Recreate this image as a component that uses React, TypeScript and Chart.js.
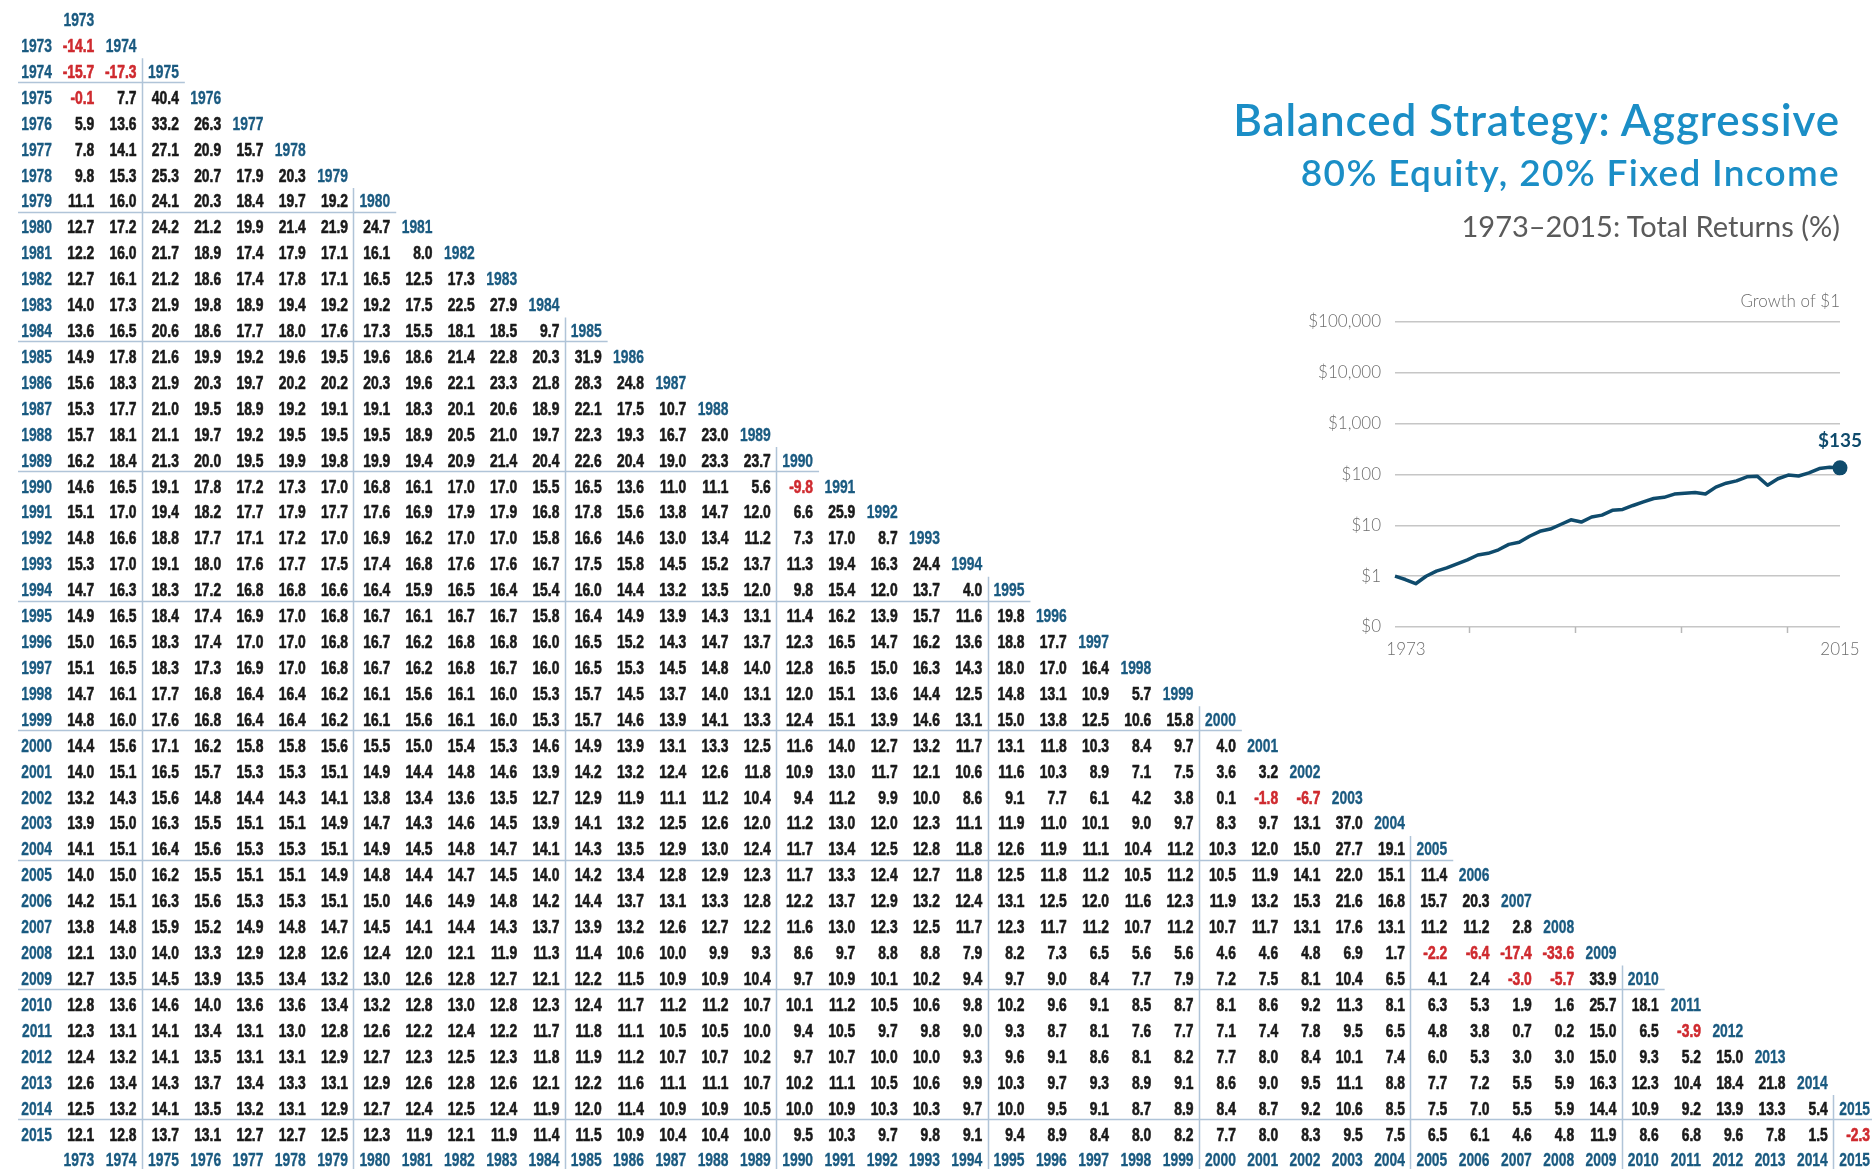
import React, { useEffect, useRef } from 'react';
import { Chart, registerables } from 'chart.js';

Chart.register(...registerables);

// ---------- DATA ----------
const startYears = [
  1973, 1974, 1975, 1976, 1977, 1978, 1979, 1980, 1981, 1982, 1983, 1984, 1985, 1986, 1987,
  1988, 1989, 1990, 1991, 1992, 1993, 1994, 1995, 1996, 1997, 1998, 1999, 2000, 2001, 2002,
  2003, 2004, 2005, 2006, 2007, 2008, 2009, 2010, 2011, 2012, 2013, 2014, 2015,
];

// annualized total returns (%) — one array per ending year, columns = starting year from 1973
const r1973 = [-14.1];
const r1974 = [-15.7, -17.3];
const r1975 = [-0.1, 7.7, 40.4];
const r1976 = [5.9, 13.6, 33.2, 26.3];
const r1977 = [7.8, 14.1, 27.1, 20.9, 15.7];
const r1978 = [9.8, 15.3, 25.3, 20.7, 17.9, 20.3];
const r1979 = [11.1, 16.0, 24.1, 20.3, 18.4, 19.7, 19.2];
const r1980 = [12.7, 17.2, 24.2, 21.2, 19.9, 21.4, 21.9, 24.7];
const r1981 = [12.2, 16.0, 21.7, 18.9, 17.4, 17.9, 17.1, 16.1, 8.0];
const r1982 = [12.7, 16.1, 21.2, 18.6, 17.4, 17.8, 17.1, 16.5, 12.5, 17.3];
const r1983 = [14.0, 17.3, 21.9, 19.8, 18.9, 19.4, 19.2, 19.2, 17.5, 22.5, 27.9];
const r1984 = [13.6, 16.5, 20.6, 18.6, 17.7, 18.0, 17.6, 17.3, 15.5, 18.1, 18.5, 9.7];
const r1985 = [14.9, 17.8, 21.6, 19.9, 19.2, 19.6, 19.5, 19.6, 18.6, 21.4, 22.8, 20.3, 31.9];
const r1986 = [15.6, 18.3, 21.9, 20.3, 19.7, 20.2, 20.2, 20.3, 19.6, 22.1, 23.3, 21.8, 28.3, 24.8];
const r1987 = [15.3, 17.7, 21.0, 19.5, 18.9, 19.2, 19.1, 19.1, 18.3, 20.1, 20.6, 18.9, 22.1, 17.5, 10.7];
const r1988 = [15.7, 18.1, 21.1, 19.7, 19.2, 19.5, 19.5, 19.5, 18.9, 20.5, 21.0, 19.7, 22.3, 19.3, 16.7, 23.0];
const r1989 = [16.2, 18.4, 21.3, 20.0, 19.5, 19.9, 19.8, 19.9, 19.4, 20.9, 21.4, 20.4, 22.6, 20.4, 19.0, 23.3, 23.7];
const r1990 = [14.6, 16.5, 19.1, 17.8, 17.2, 17.3, 17.0, 16.8, 16.1, 17.0, 17.0, 15.5, 16.5, 13.6, 11.0, 11.1, 5.6, -9.8];
const r1991 = [15.1, 17.0, 19.4, 18.2, 17.7, 17.9, 17.7, 17.6, 16.9, 17.9, 17.9, 16.8, 17.8, 15.6, 13.8, 14.7, 12.0, 6.6, 25.9];
const r1992 = [14.8, 16.6, 18.8, 17.7, 17.1, 17.2, 17.0, 16.9, 16.2, 17.0, 17.0, 15.8, 16.6, 14.6, 13.0, 13.4, 11.2, 7.3, 17.0, 8.7];
const r1993 = [15.3, 17.0, 19.1, 18.0, 17.6, 17.7, 17.5, 17.4, 16.8, 17.6, 17.6, 16.7, 17.5, 15.8, 14.5, 15.2, 13.7, 11.3, 19.4, 16.3, 24.4];
const r1994 = [14.7, 16.3, 18.3, 17.2, 16.8, 16.8, 16.6, 16.4, 15.9, 16.5, 16.4, 15.4, 16.0, 14.4, 13.2, 13.5, 12.0, 9.8, 15.4, 12.0, 13.7, 4.0];
const r1995 = [14.9, 16.5, 18.4, 17.4, 16.9, 17.0, 16.8, 16.7, 16.1, 16.7, 16.7, 15.8, 16.4, 14.9, 13.9, 14.3, 13.1, 11.4, 16.2, 13.9, 15.7, 11.6, 19.8];
const r1996 = [15.0, 16.5, 18.3, 17.4, 17.0, 17.0, 16.8, 16.7, 16.2, 16.8, 16.8, 16.0, 16.5, 15.2, 14.3, 14.7, 13.7, 12.3, 16.5, 14.7, 16.2, 13.6, 18.8, 17.7];
const r1997 = [15.1, 16.5, 18.3, 17.3, 16.9, 17.0, 16.8, 16.7, 16.2, 16.8, 16.7, 16.0, 16.5, 15.3, 14.5, 14.8, 14.0, 12.8, 16.5, 15.0, 16.3, 14.3, 18.0, 17.0, 16.4];
const r1998 = [14.7, 16.1, 17.7, 16.8, 16.4, 16.4, 16.2, 16.1, 15.6, 16.1, 16.0, 15.3, 15.7, 14.5, 13.7, 14.0, 13.1, 12.0, 15.1, 13.6, 14.4, 12.5, 14.8, 13.1, 10.9, 5.7];
const r1999 = [14.8, 16.0, 17.6, 16.8, 16.4, 16.4, 16.2, 16.1, 15.6, 16.1, 16.0, 15.3, 15.7, 14.6, 13.9, 14.1, 13.3, 12.4, 15.1, 13.9, 14.6, 13.1, 15.0, 13.8, 12.5, 10.6, 15.8];
const r2000 = [14.4, 15.6, 17.1, 16.2, 15.8, 15.8, 15.6, 15.5, 15.0, 15.4, 15.3, 14.6, 14.9, 13.9, 13.1, 13.3, 12.5, 11.6, 14.0, 12.7, 13.2, 11.7, 13.1, 11.8, 10.3, 8.4, 9.7, 4.0];
const r2001 = [14.0, 15.1, 16.5, 15.7, 15.3, 15.3, 15.1, 14.9, 14.4, 14.8, 14.6, 13.9, 14.2, 13.2, 12.4, 12.6, 11.8, 10.9, 13.0, 11.7, 12.1, 10.6, 11.6, 10.3, 8.9, 7.1, 7.5, 3.6, 3.2];
const r2002 = [13.2, 14.3, 15.6, 14.8, 14.4, 14.3, 14.1, 13.8, 13.4, 13.6, 13.5, 12.7, 12.9, 11.9, 11.1, 11.2, 10.4, 9.4, 11.2, 9.9, 10.0, 8.6, 9.1, 7.7, 6.1, 4.2, 3.8, 0.1, -1.8, -6.7];
const r2003 = [13.9, 15.0, 16.3, 15.5, 15.1, 15.1, 14.9, 14.7, 14.3, 14.6, 14.5, 13.9, 14.1, 13.2, 12.5, 12.6, 12.0, 11.2, 13.0, 12.0, 12.3, 11.1, 11.9, 11.0, 10.1, 9.0, 9.7, 8.3, 9.7, 13.1, 37.0];
const r2004 = [14.1, 15.1, 16.4, 15.6, 15.3, 15.3, 15.1, 14.9, 14.5, 14.8, 14.7, 14.1, 14.3, 13.5, 12.9, 13.0, 12.4, 11.7, 13.4, 12.5, 12.8, 11.8, 12.6, 11.9, 11.1, 10.4, 11.2, 10.3, 12.0, 15.0, 27.7, 19.1];
const r2005 = [14.0, 15.0, 16.2, 15.5, 15.1, 15.1, 14.9, 14.8, 14.4, 14.7, 14.5, 14.0, 14.2, 13.4, 12.8, 12.9, 12.3, 11.7, 13.3, 12.4, 12.7, 11.8, 12.5, 11.8, 11.2, 10.5, 11.2, 10.5, 11.9, 14.1, 22.0, 15.1, 11.4];
const r2006 = [14.2, 15.1, 16.3, 15.6, 15.3, 15.3, 15.1, 15.0, 14.6, 14.9, 14.8, 14.2, 14.4, 13.7, 13.1, 13.3, 12.8, 12.2, 13.7, 12.9, 13.2, 12.4, 13.1, 12.5, 12.0, 11.6, 12.3, 11.9, 13.2, 15.3, 21.6, 16.8, 15.7, 20.3];
const r2007 = [13.8, 14.8, 15.9, 15.2, 14.9, 14.8, 14.7, 14.5, 14.1, 14.4, 14.3, 13.7, 13.9, 13.2, 12.6, 12.7, 12.2, 11.6, 13.0, 12.3, 12.5, 11.7, 12.3, 11.7, 11.2, 10.7, 11.2, 10.7, 11.7, 13.1, 17.6, 13.1, 11.2, 11.2, 2.8];
const r2008 = [12.1, 13.0, 14.0, 13.3, 12.9, 12.8, 12.6, 12.4, 12.0, 12.1, 11.9, 11.3, 11.4, 10.6, 10.0, 9.9, 9.3, 8.6, 9.7, 8.8, 8.8, 7.9, 8.2, 7.3, 6.5, 5.6, 5.6, 4.6, 4.6, 4.8, 6.9, 1.7, -2.2, -6.4, -17.4, -33.6];
const r2009 = [12.7, 13.5, 14.5, 13.9, 13.5, 13.4, 13.2, 13.0, 12.6, 12.8, 12.7, 12.1, 12.2, 11.5, 10.9, 10.9, 10.4, 9.7, 10.9, 10.1, 10.2, 9.4, 9.7, 9.0, 8.4, 7.7, 7.9, 7.2, 7.5, 8.1, 10.4, 6.5, 4.1, 2.4, -3.0, -5.7, 33.9];
const r2010 = [12.8, 13.6, 14.6, 14.0, 13.6, 13.6, 13.4, 13.2, 12.8, 13.0, 12.8, 12.3, 12.4, 11.7, 11.2, 11.2, 10.7, 10.1, 11.2, 10.5, 10.6, 9.8, 10.2, 9.6, 9.1, 8.5, 8.7, 8.1, 8.6, 9.2, 11.3, 8.1, 6.3, 5.3, 1.9, 1.6, 25.7, 18.1];
const r2011 = [12.3, 13.1, 14.1, 13.4, 13.1, 13.0, 12.8, 12.6, 12.2, 12.4, 12.2, 11.7, 11.8, 11.1, 10.5, 10.5, 10.0, 9.4, 10.5, 9.7, 9.8, 9.0, 9.3, 8.7, 8.1, 7.6, 7.7, 7.1, 7.4, 7.8, 9.5, 6.5, 4.8, 3.8, 0.7, 0.2, 15.0, 6.5, -3.9];
const r2012 = [12.4, 13.2, 14.1, 13.5, 13.1, 13.1, 12.9, 12.7, 12.3, 12.5, 12.3, 11.8, 11.9, 11.2, 10.7, 10.7, 10.2, 9.7, 10.7, 10.0, 10.0, 9.3, 9.6, 9.1, 8.6, 8.1, 8.2, 7.7, 8.0, 8.4, 10.1, 7.4, 6.0, 5.3, 3.0, 3.0, 15.0, 9.3, 5.2, 15.0];
const r2013 = [12.6, 13.4, 14.3, 13.7, 13.4, 13.3, 13.1, 12.9, 12.6, 12.8, 12.6, 12.1, 12.2, 11.6, 11.1, 11.1, 10.7, 10.2, 11.1, 10.5, 10.6, 9.9, 10.3, 9.7, 9.3, 8.9, 9.1, 8.6, 9.0, 9.5, 11.1, 8.8, 7.7, 7.2, 5.5, 5.9, 16.3, 12.3, 10.4, 18.4, 21.8];
const r2014 = [12.5, 13.2, 14.1, 13.5, 13.2, 13.1, 12.9, 12.7, 12.4, 12.5, 12.4, 11.9, 12.0, 11.4, 10.9, 10.9, 10.5, 10.0, 10.9, 10.3, 10.3, 9.7, 10.0, 9.5, 9.1, 8.7, 8.9, 8.4, 8.7, 9.2, 10.6, 8.5, 7.5, 7.0, 5.5, 5.9, 14.4, 10.9, 9.2, 13.9, 13.3, 5.4];
const r2015 = [12.1, 12.8, 13.7, 13.1, 12.7, 12.7, 12.5, 12.3, 11.9, 12.1, 11.9, 11.4, 11.5, 10.9, 10.4, 10.4, 10.0, 9.5, 10.3, 9.7, 9.8, 9.1, 9.4, 8.9, 8.4, 8.0, 8.2, 7.7, 8.0, 8.3, 9.5, 7.5, 6.5, 6.1, 4.6, 4.8, 11.9, 8.6, 6.8, 9.6, 7.8, 1.5, -2.3];

const rowsByEndYear = [
  r1973, r1974, r1975, r1976, r1977, r1978, r1979, r1980, r1981, r1982, r1983, r1984, r1985,
  r1986, r1987, r1988, r1989, r1990, r1991, r1992, r1993, r1994, r1995, r1996, r1997, r1998,
  r1999, r2000, r2001, r2002, r2003, r2004, r2005, r2006, r2007, r2008, r2009, r2010, r2011,
  r2012, r2013, r2014, r2015,
];

// five-year blocks that get separator lines
const groupStarts = [1975, 1980, 1985, 1990, 1995, 2000, 2005, 2010, 2015];

// growth of $1 (start, then each year end 1973..2015)
const growthOf1 = [
  1.0, 0.859, 0.71, 0.997, 1.26, 1.458, 1.753, 2.09, 2.606, 2.815, 3.302, 4.223, 4.633, 6.11,
  7.626, 8.442, 10.38, 12.84, 11.59, 14.59, 15.86, 19.72, 20.51, 24.57, 28.92, 33.67, 35.59,
  41.21, 42.86, 44.23, 41.27, 56.53, 67.33, 75.01, 90.23, 92.76, 61.59, 82.47, 97.4, 93.6,
  107.6, 131.1, 138.2, 135.0,
];
const growthTicks = [0.1, 1, 10, 100, 1000, 10000, 100000];
const growthTickLabels = ['$0', '$1', '$10', '$100', '$1,000', '$10,000', '$100,000'];
const growthDecadeMarks = [1980, 1990, 2000, 2010];
const growthXLabels = ['1973', '2015'];
const growthCaption = 'Growth of $1';
const growthEndLabel = '$135';

const titleText = 'Balanced Strategy: Aggressive';
const subtitleText = '80% Equity, 20% Fixed Income';
const periodText = '1973\u20132015: Total Returns (%)';

// ---------- STYLE ----------
const BLUE = '#1a5a80';
const RED = '#cf2a2f';
const BLACK = '#1a1a1a';
const SEP = '#b0c4d8';
const LINE = '#0f4b6c';
const TEXT_SCALE_X = 0.77;

const tablePlugin = {
  id: 'tableText',
  afterDatasetsDraw(chart: any) {
    const ctx = chart.ctx as CanvasRenderingContext2D;
    const xs = chart.scales.x;
    const ys = chart.scales.y;
    ctx.save();
    ctx.strokeStyle = SEP;
    ctx.lineWidth = 1.5;
    groupStarts.forEach((g) => {
      const vx = Math.round(xs.getPixelForValue(g - 1) + 5.5) + 0.5;
      const rowPrev = ys.getPixelForValue(g - 1);
      const rowNext = ys.getPixelForValue(g);
      const top = rowPrev - 13;
      const bottom = ys.getPixelForValue(2016) + 9;
      const hy = Math.round((rowPrev + rowNext) / 2 - 2) + 0.5;
      const hx1 = xs.getPixelForValue(1972) - 34;
      const hx2 = xs.getPixelForValue(g) + 6;
      ctx.beginPath();
      ctx.moveTo(vx, top);
      ctx.lineTo(vx, bottom);
      ctx.moveTo(hx1, hy);
      ctx.lineTo(hx2, hy);
      ctx.stroke();
    });
    ctx.font = 'bold 18px "Liberation Sans", Arial, sans-serif';
    ctx.textAlign = 'right';
    ctx.textBaseline = 'alphabetic';
    ctx.lineJoin = 'round';
    chart.data.datasets.forEach((ds: any, di: number) => {
      const meta = chart.getDatasetMeta(di);
      meta.data.forEach((el: any, i: number) => {
        const d = ds.data[i];
        let text: string;
        let color: string;
        if (di === 0) {
          text = d.v.toFixed(1);
          color = d.v < 0 ? RED : BLACK;
        } else {
          text = d.t;
          color = BLUE;
        }
        ctx.save();
        ctx.translate(el.x, el.y + 6.5);
        ctx.scale(TEXT_SCALE_X, 1);
        ctx.fillStyle = color;
        ctx.strokeStyle = color;
        ctx.lineWidth = di === 0 ? 0.6 : 0.35;
        ctx.fillText(text, 0, 0);
        ctx.strokeText(text, 0, 0);
        ctx.restore();
      });
    });
    ctx.restore();
  },
};

function ReturnsTable() {
  const ref = useRef<HTMLCanvasElement>(null);
  useEffect(() => {
    if (!ref.current) return;
    const valuePts: any[] = [];
    rowsByEndYear.forEach((row, ri) => {
      const end = startYears[ri];
      row.forEach((v, ci) => valuePts.push({ x: startYears[ci], y: end, v }));
    });
    const labelPts: any[] = [];
    startYears.forEach((yr) => {
      labelPts.push({ x: 1972, y: yr, t: String(yr) });
      labelPts.push({ x: yr, y: yr - 1, t: String(yr) });
      labelPts.push({ x: yr, y: 2016, t: String(yr) });
    });
    const chart = new Chart(ref.current, {
      type: 'scatter',
      data: {
        datasets: [
          { data: valuePts, pointRadius: 0, pointHoverRadius: 0 },
          { data: labelPts, pointRadius: 0, pointHoverRadius: 0 },
        ] as any,
      },
      options: {
        animation: false,
        responsive: false,
        events: [],
        layout: { padding: 0 },
        plugins: { legend: { display: false }, tooltip: { enabled: false } },
        scales: {
          x: { type: 'linear', display: false, min: 1970.77, max: 2015.046 },
          y: { type: 'linear', display: false, reverse: true, min: 1971.248, max: 2016.62 },
        },
      } as any,
      plugins: [tablePlugin],
    });
    return () => chart.destroy();
  }, []);
  return (
    <canvas
      ref={ref}
      width={1872}
      height={1176}
      style={{ position: 'absolute', left: 0, top: 0, width: 1872, height: 1176 }}
    />
  );
}

const growthPlugin = {
  id: 'growthDecor',
  afterDatasetsDraw(chart: any) {
    const ctx = chart.ctx as CanvasRenderingContext2D;
    const area = chart.chartArea;
    const xs = chart.scales.x;
    const n = growthOf1.length - 1;
    ctx.save();
    ctx.strokeStyle = '#b8b8b8';
    ctx.lineWidth = 1.5;
    growthDecadeMarks.forEach((yr) => {
      const px = Math.round(xs.getPixelForValue(((yr - 1973) * n) / 42)) + 0.5;
      ctx.beginPath();
      ctx.moveTo(px, area.bottom);
      ctx.lineTo(px, area.bottom + 6);
      ctx.stroke();
    });
    ctx.fillStyle = '#6d6d6d';
    ctx.font = '300 17px Lato, sans-serif';
    ctx.textBaseline = 'middle';
    ctx.textAlign = 'center';
    ctx.fillText(growthXLabels[0], xs.getPixelForValue(0) + 11, area.bottom + 22.5);
    ctx.fillText(growthXLabels[1], xs.getPixelForValue(n), area.bottom + 22.5);
    ctx.textAlign = 'right';
    ctx.fillText(growthCaption, area.right, area.top - 20);
    const meta = chart.getDatasetMeta(0);
    const last = meta.data[meta.data.length - 1];
    ctx.fillStyle = LINE;
    ctx.font = 'bold 19px Lato, sans-serif';
    ctx.textAlign = 'center';
    ctx.fillText(growthEndLabel, last.x, last.y - 27);
    ctx.restore();
  },
};

function GrowthChart() {
  const ref = useRef<HTMLCanvasElement>(null);
  useEffect(() => {
    if (!ref.current) return;
    const n = growthOf1.length - 1;
    const chart = new Chart(ref.current, {
      type: 'line',
      data: {
        datasets: [
          {
            data: growthOf1.map((v, i) => ({ x: i, y: v })),
            borderColor: LINE,
            backgroundColor: LINE,
            borderWidth: 3.5,
            tension: 0,
            clip: false,
            pointRadius: (c: any) => (c.dataIndex === n ? 7.5 : 0),
            pointBackgroundColor: LINE,
            pointBorderWidth: 0,
            pointHoverRadius: 0,
            borderJoinStyle: 'round',
          },
        ] as any,
      },
      options: {
        animation: false,
        responsive: false,
        events: [],
        layout: { padding: { top: 42, right: 32, left: 0, bottom: 0 } },
        plugins: { legend: { display: false }, tooltip: { enabled: false } },
        scales: {
          x: {
            type: 'linear',
            min: 0,
            max: n,
            grid: { display: false },
            border: { display: false },
            ticks: { display: false },
            afterFit: (s: any) => {
              s.height = 43;
            },
          },
          y: {
            type: 'logarithmic',
            min: 0.1,
            max: 100000,
            afterFit: (s: any) => {
              s.width = 105;
            },
            afterBuildTicks: (s: any) => {
              s.ticks = growthTicks.map((v) => ({ value: v }));
            },
            ticks: {
              callback: (_v: any, idx: number) => growthTickLabels[idx],
              padding: 14,
              color: '#6d6d6d',
              font: { family: 'Lato', size: 17, weight: 300 },
            },
            grid: { color: '#c6c6c6', lineWidth: 1.5, drawTicks: false },
            border: { display: false },
          },
        },
      } as any,
      plugins: [growthPlugin],
    });
    return () => chart.destroy();
  }, []);
  return (
    <canvas
      ref={ref}
      width={582}
      height={390}
      style={{ position: 'absolute', left: 1290, top: 280, width: 582, height: 390 }}
    />
  );
}

export default function App() {
  useEffect(() => {
    document.body.style.margin = '0';
  }, []);
  const base: React.CSSProperties = {
    position: 'absolute',
    right: 32,
    whiteSpace: 'nowrap',
    textAlign: 'right',
    fontFamily: 'Lato, "Open Sans", sans-serif',
  };
  return (
    <div
      style={{
        position: 'absolute',
        left: 0,
        top: 0,
        width: 1872,
        height: 1176,
        overflow: 'hidden',
        background: '#ffffff',
      }}
    >
      <ReturnsTable />
      <div
        style={{
          ...base,
          top: 97,
          fontSize: 44,
          lineHeight: '44px',
          fontWeight: 600,
          letterSpacing: '0.9px',
          color: '#1b8ec6',
        }}
      >
        {titleText}
      </div>
      <div
        style={{
          ...base,
          top: 153,
          fontSize: 37,
          lineHeight: '37px',
          fontWeight: 600,
          letterSpacing: '1.3px',
          color: '#1b8ec6',
        }}
      >
        {subtitleText}
      </div>
      <div
        style={{
          ...base,
          top: 211,
          fontSize: 29,
          lineHeight: '29px',
          fontWeight: 400,
          color: '#5a5a5a',
        }}
      >
        {periodText}
      </div>
      <GrowthChart />
    </div>
  );
}
